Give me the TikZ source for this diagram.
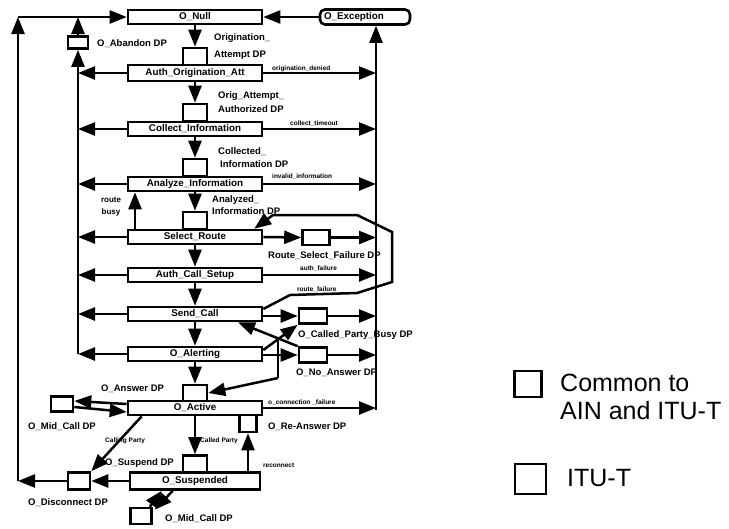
\documentclass[tikz,border=0pt]{standalone}
\usepackage{fontspec}
\setmainfont{Liberation Sans}
\usetikzlibrary{arrows.meta}
\begin{document}
\begin{tikzpicture}[x=1pt,y=-1pt,
 state/.style={draw,line width=2.6pt,minimum width=134pt,minimum height=14pt,inner sep=0pt,font=\bfseries\fontsize{9.8}{10}\selectfont},
 dp/.style={draw,line width=2.6pt,minimum width=24pt,minimum height=15pt,inner sep=0pt},
 conn/.style={line width=2.5pt,-{Triangle[length=17pt,width=13pt]}},
 plain/.style={line width=2.5pt},
 lbl/.style={font=\bfseries\fontsize{9.5}{10}\selectfont,inner sep=0pt},
 slbl/.style={font=\bfseries\fontsize{6.5}{7}\selectfont,inner sep=0pt},
 leg/.style={font=\fontsize{25}{28}\selectfont,inner sep=0pt}]
\useasboundingbox[fill=white] (0,0) rectangle (729,528);

% states
\node[state] (Null) at (195,17) {O\_Null};
\node[state,minimum height=16pt] (AuthOrig) at (195,73) {Auth\_Origination\_Att};
\node[state] (Collect) at (195,129) {Collect\_Information};
\node[state] (Analyze) at (195,184) {Analyze\_Information};
\node[state] (Select) at (195,237) {Select\_Route};
\node[state] (AuthCall) at (195,275) {Auth\_Call\_Setup};
\node[state] (Send) at (195,314) {Send\_Call};
\node[state] (Alert) at (195,354) {O\_Alerting};
\node[state] (Active) at (195,408) {O\_Active};
\node[state,minimum width=130pt,minimum height=17pt] (Susp) at (195,481) {O\_Suspended};
\node[draw,line width=2.6pt,rounded corners=5pt,minimum height=15pt,text width=82pt,align=left,inner xsep=4pt,inner ysep=0pt,font=\bfseries\fontsize{9.8}{10}\selectfont] (Exc) at (365,17) {O\_Exception};

% detection points
\node[dp,minimum height=17pt] (dpOA) at (195,56.5) {};
\node[dp,minimum height=17pt] (dpOAA) at (195,112.5) {};
\node[dp,minimum height=17pt] (dpCI) at (195,167.5) {};
\node[dp,minimum height=17pt] (dpAI) at (195,220.5) {};
\node[dp,minimum height=16pt] (dpAns) at (195,393) {};
\node[dp,minimum height=17pt] (dpSusp) at (195,464) {};
\node[dp,minimum width=17pt,minimum height=17pt] (dpReAns) at (248,423.5) {};
\node[dp,minimum width=22pt,minimum height=15pt] (dpMid1) at (62,404) {};
\node[dp,minimum width=22pt,minimum height=17pt] (dpDisc) at (79,481) {};
\node[dp,minimum width=21pt,minimum height=16pt] (dpMid2) at (141,516) {};
\node[dp,minimum width=20pt,minimum height=12pt] (dpAband) at (78,42.5) {};
\node[dp,minimum width=27pt] (dpRSF) at (316,237.5) {};
\node[dp,minimum width=28pt] (dpCPB) at (313,316) {};
\node[dp,minimum width=28pt] (dpNoAns) at (313,355) {};

% bus coordinates
\coordinate (rbot) at (376,410);
\coordinate (lbus) at (78,354);
\coordinate (outer) at (18,481);
\coordinate (rbx) at (135,0);
\coordinate (xc) at (278,338);
\coordinate (xd) at (278,378);

% right bus
\draw[conn] (rbot) -- (Exc.south -| rbot);
\draw[conn] (Exc.west) -- (Null.east);
\draw[conn] (AuthOrig.east) -- (AuthOrig.east -| rbot);
\draw[conn] (Collect.east) -- (Collect.east -| rbot);
\draw[conn] (Analyze.east) -- (Analyze.east -| rbot);
\draw[conn] (Select.east) -- (dpRSF.west);
\draw[conn] (dpRSF.east) -- (dpRSF.east -| rbot);
\draw[conn] (AuthCall.east) -- (AuthCall.east -| rbot);
\draw[conn] (dpCPB.west -| Send.east) -- (dpCPB.west);
\draw[conn] (dpCPB.east) -- (dpCPB.east -| rbot);
\draw[conn] (dpNoAns.west -| Alert.east) -- (dpNoAns.west);
\draw[conn] (dpNoAns.east) -- (dpNoAns.east -| rbot);
\draw[conn] (Active.east) -- (Active.east -| rbot);

% left bus
\draw[plain] (lbus) -- (lbus |- AuthOrig.west);
\draw[conn] (lbus |- AuthOrig.west) -- (dpAband.south);
\draw[conn] (dpAband.north) -- (dpAband.north |- Null.west);
\foreach \s in {AuthOrig,Collect,Analyze,Select,AuthCall,Send,Alert}
  \draw[conn] (\s.west) -- (\s.west -| lbus);

% outer return
\draw[conn] (dpDisc.west) -- (outer);
\draw[conn] (outer) -- (outer |- Null.west);
\draw[conn] (outer |- Null.west) -- (Null.west);

% main flow
\draw[conn] (Null.south) -- (dpOA.north);
\draw[conn] (AuthOrig.south) -- (dpOAA.north);
\draw[conn] (Collect.south) -- (dpCI.north);
\draw[conn] (Analyze.south) -- (dpAI.north);
\draw[conn] (Select.south) -- (AuthCall.north);
\draw[conn] (AuthCall.south) -- (Send.north);
\draw[conn] (Send.south) -- (Alert.north);
\draw[conn] (Alert.south) -- (dpAns.north);
\draw[conn] (Active.south) -- (dpSusp.north);

% route busy
\draw[conn] (Select.north -| rbx) -- (Analyze.south -| rbx);

% route failure loop
\draw[conn] ([yshift=5pt]Send.east) -- (290,295) -- (357,293) -- (392,282) -- (392,232) -- (357,215) -- (273,215) -- ([xshift=-9pt]Select.north east);

% crossing near alerting
\draw[conn] ([yshift=4pt]Alert.east) -- (dpCPB.south west);
\draw[conn] (dpNoAns.north west) -- ([xshift=43pt]Send.south);
\draw[plain] (xc) -- (xd);
\draw[conn] (xd) -- (dpAns.east);

% active / suspended area
\draw[conn] ([yshift=4pt]Active.west) -- ([yshift=3pt]dpMid1.east);
\draw[conn] ([yshift=-3pt]dpMid1.east) -- ([yshift=-4pt]Active.west);
\draw[conn] ([xshift=15pt]Active.south west) -- (dpDisc.north east);
\draw[conn] (Susp.west) -- (dpDisc.east);
\draw[conn] (dpReAns.south |- Susp.north) -- (dpReAns.south);
\draw[conn] ([xshift=-3pt]dpMid2.north east) -- ([xshift=33pt]Susp.south west);
\draw[conn] ([xshift=44pt]Susp.south west) -- ([xshift=2pt,yshift=-3pt]dpMid2.north east);

% DP labels
\node[lbl,anchor=west] at (214,38) {Origination\_};
\node[lbl,anchor=west] at (214,55) {Attempt DP};
\node[lbl,anchor=west] at (218,96) {Orig\_Attempt\_};
\node[lbl,anchor=west] at (218,109) {Authorized DP};
\node[lbl,anchor=west] at (218,152) {Collected\_};
\node[lbl,anchor=west] at (220,164) {Information DP};
\node[lbl,anchor=west] at (212,200) {Analyzed\_};
\node[lbl,anchor=west] at (212,211) {Information DP};
\node[lbl,anchor=west] at (97,44) {O\_Abandon DP};
\node[lbl,anchor=west] at (268,256) {Route\_Select\_Failure DP};
\node[lbl,anchor=west] at (298,335) {O\_Called\_Party\_Busy DP};
\node[lbl,anchor=west] at (296,373) {O\_No\_Answer DP};
\node[lbl,anchor=west] at (101,389) {O\_Answer DP};
\node[lbl,anchor=west] at (28,427) {O\_Mid\_Call DP};
\node[lbl,anchor=west] at (268,427) {O\_Re-Answer DP};
\node[lbl,anchor=west] at (105,463) {O\_Suspend DP};
\node[lbl,anchor=west] at (28,503) {O\_Disconnect DP};
\node[lbl,anchor=west] at (165,519) {O\_Mid\_Call DP};

% transition labels
\node[slbl,anchor=west] at (272,69) {origination\_denied};
\node[slbl,anchor=west] at (290,124) {collect\_timeout};
\node[slbl,anchor=west] at (272,177) {invalid\_information};
\node[slbl,anchor=west] at (300,269) {auth\_failure};
\node[slbl,anchor=west] at (297,290) {route\_failure};
\node[slbl,anchor=west] at (268,403) {o\_connection \_failure};
\node[slbl,anchor=west] at (105,441) {Calling Party};
\node[slbl,anchor=west] at (200,441) {Called Party};
\node[slbl,anchor=west] at (263,465) {reconnect};
\node[lbl,font=\bfseries\fontsize{8}{9}\selectfont] at (111,200) {route};
\node[lbl,font=\bfseries\fontsize{8}{9}\selectfont] at (111,212) {busy};

% legend
\node[draw,line width=2.6pt,minimum width=27pt,minimum height=26pt,inner sep=0pt] (leg1) at (528,384) {};
\node[draw,line width=2pt,minimum width=31pt,minimum height=30pt,inner sep=0pt] (leg2) at (530,479) {};
\node[leg,anchor=west] at (560,383) {Common to};
\node[leg,anchor=west] at (560,411) {AIN and ITU-T};
\node[leg,anchor=west] at (567,478) {ITU-T};
\end{tikzpicture}
\end{document}
